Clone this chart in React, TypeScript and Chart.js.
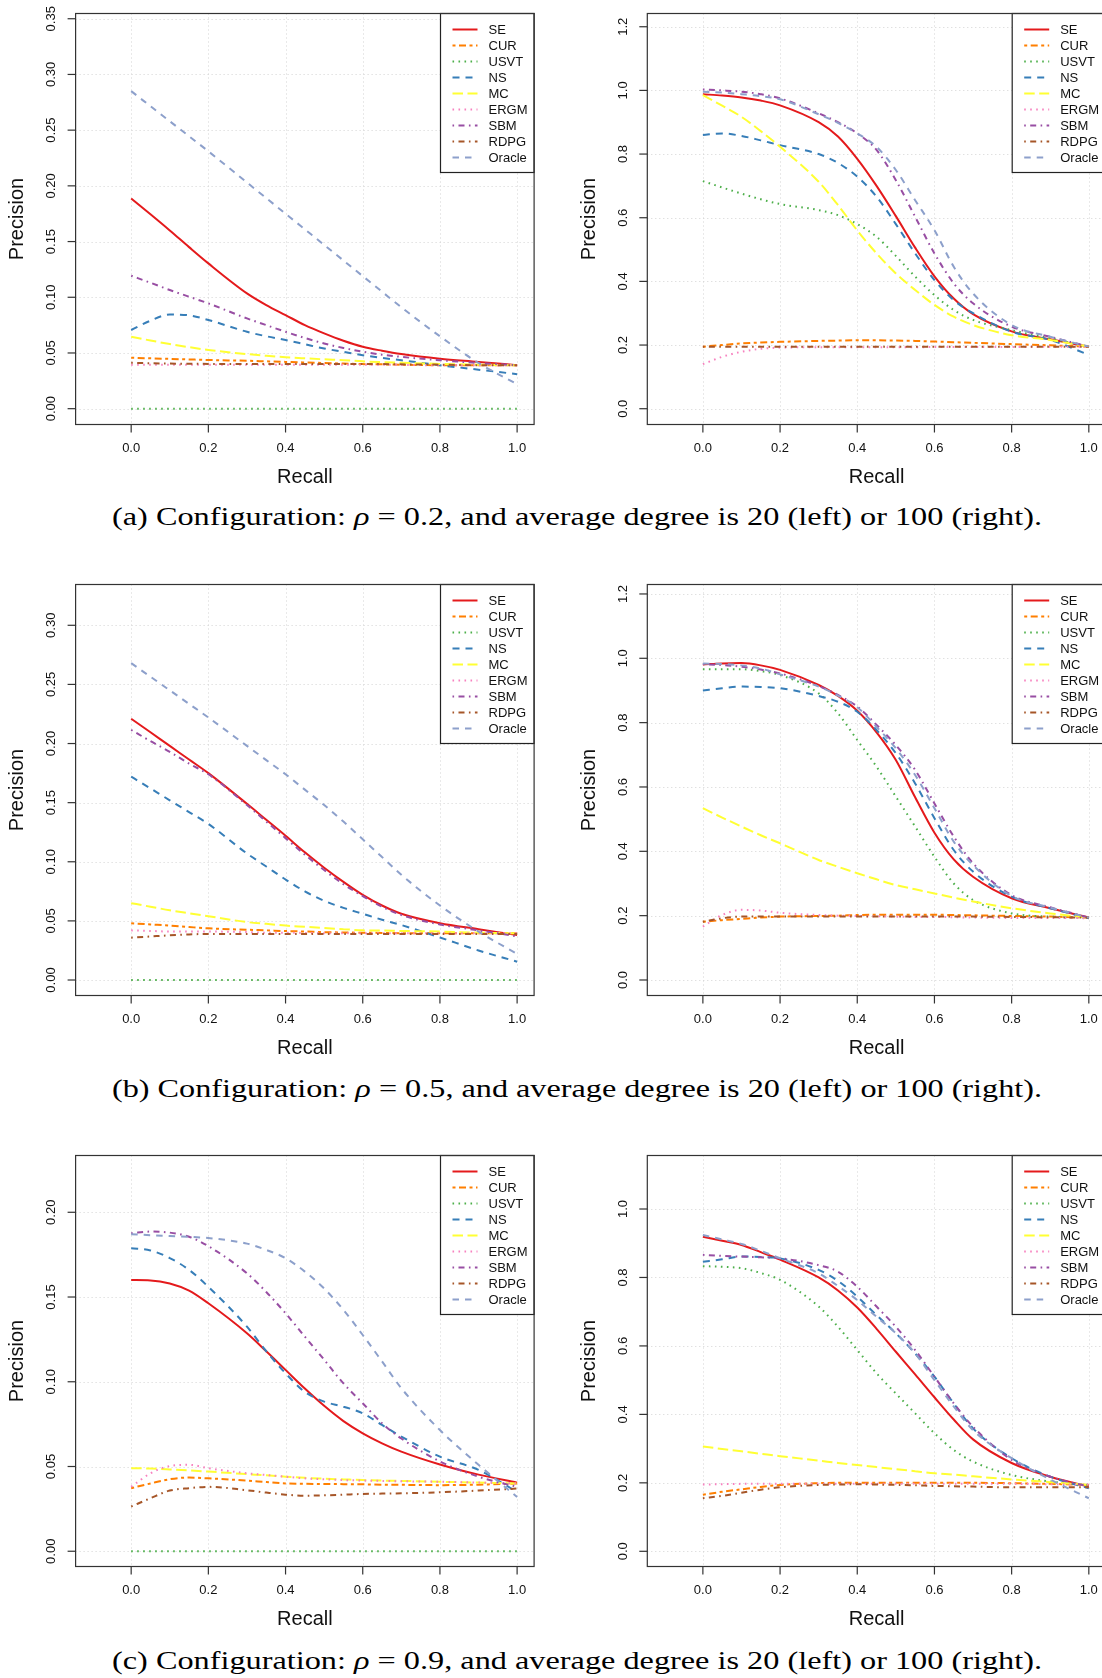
import React, { useEffect, useLayoutEffect, useRef } from "react";
import { Chart, registerables } from "chart.js";
Chart.register(...registerables);

// ---------------- data ----------------
const RECALL = [0, 0.05, 0.1, 0.15, 0.2, 0.3, 0.35, 0.4, 0.45, 0.5, 0.55, 0.6, 0.65, 0.7, 0.8, 0.9, 1.0];
const METHODS = ["SE", "CUR", "USVT", "NS", "MC", "ERGM", "SBM", "RDPG", "Oracle"];
const X_TICKS = [0, 0.2, 0.4, 0.6, 0.8, 1.0];
const X_TICK_LABELS = ["0.0", "0.2", "0.4", "0.6", "0.8", "1.0"];

// (a) rho = 0.2, degree 20
const A20_SE = [0.1887, 0.1745, 0.16, 0.145, 0.1304, 0.1035, 0.093, 0.084, 0.075, 0.0676, 0.061, 0.0556, 0.052, 0.049, 0.0448, 0.042, 0.039];
const A20_CUR = [0.0457, 0.0452, 0.0447, 0.0442, 0.0437, 0.043, 0.0425, 0.042, 0.0415, 0.041, 0.0405, 0.04, 0.0398, 0.0395, 0.039, 0.039, 0.039];
const A20_USVT = [0, 0, 0, 0, 0, 0, 0, 0, 0, 0, 0, 0, 0, 0, 0, 0, 0];
const A20_NS = [0.0706, 0.079, 0.0845, 0.0838, 0.0796, 0.069, 0.065, 0.0616, 0.0578, 0.054, 0.051, 0.048, 0.0455, 0.0435, 0.039, 0.035, 0.031];
const A20_MC = [0.0646, 0.0612, 0.058, 0.0552, 0.0527, 0.049, 0.0475, 0.0462, 0.0452, 0.0443, 0.0435, 0.0425, 0.0418, 0.0412, 0.0402, 0.0395, 0.039];
const A20_ERGM = [0.0395, 0.0395, 0.0395, 0.0395, 0.0395, 0.0395, 0.0395, 0.0395, 0.0395, 0.0395, 0.0395, 0.0395, 0.0395, 0.0393, 0.039, 0.039, 0.039];
const A20_SBM = [0.1193, 0.113, 0.1065, 0.1005, 0.0945, 0.081, 0.075, 0.069, 0.0635, 0.0585, 0.0545, 0.0511, 0.0485, 0.0465, 0.0435, 0.041, 0.039];
const A20_RDPG = [0.0412, 0.0408, 0.0405, 0.0403, 0.0402, 0.04, 0.04, 0.04, 0.04, 0.04, 0.04, 0.04, 0.04, 0.0398, 0.0395, 0.039, 0.039];
const A20_ORACLE = [0.285, 0.2715, 0.258, 0.2445, 0.231, 0.203, 0.189, 0.175, 0.161, 0.147, 0.133, 0.119, 0.105, 0.091, 0.065, 0.041, 0.022];

// (a) rho = 0.2, degree 100
const A100_SE = [0.988, 0.984, 0.978, 0.968, 0.953, 0.9, 0.855, 0.785, 0.7, 0.605, 0.506, 0.416, 0.346, 0.297, 0.243, 0.218, 0.195];
const A100_CUR = [0.195, 0.2, 0.205, 0.208, 0.21, 0.213, 0.214, 0.215, 0.215, 0.214, 0.213, 0.211, 0.209, 0.207, 0.203, 0.199, 0.195];
const A100_USVT = [0.715, 0.695, 0.676, 0.658, 0.643, 0.624, 0.608, 0.58, 0.54, 0.48, 0.415, 0.357, 0.31, 0.279, 0.247, 0.221, 0.195];
const A100_NS = [0.86, 0.865, 0.857, 0.843, 0.828, 0.8, 0.772, 0.729, 0.666, 0.58, 0.488, 0.404, 0.341, 0.3, 0.242, 0.216, 0.169];
const A100_MC = [0.985, 0.952, 0.917, 0.872, 0.823, 0.713, 0.64, 0.56, 0.488, 0.425, 0.373, 0.326, 0.289, 0.263, 0.231, 0.216, 0.195];
const A100_ERGM = [0.14, 0.163, 0.179, 0.188, 0.192, 0.193, 0.193, 0.193, 0.193, 0.193, 0.193, 0.194, 0.194, 0.194, 0.194, 0.195, 0.195];
const A100_SBM = [1.003, 1.0, 0.996, 0.988, 0.975, 0.928, 0.9, 0.865, 0.813, 0.718, 0.603, 0.488, 0.394, 0.331, 0.258, 0.226, 0.195];
const A100_RDPG = [0.195, 0.195, 0.195, 0.195, 0.195, 0.195, 0.195, 0.195, 0.195, 0.195, 0.195, 0.195, 0.195, 0.195, 0.195, 0.195, 0.195];
const A100_ORACLE = [0.996, 0.993, 0.988, 0.982, 0.972, 0.925, 0.898, 0.865, 0.823, 0.75, 0.655, 0.561, 0.446, 0.362, 0.263, 0.226, 0.195];

// (b) rho = 0.5, degree 20
const B20_SE = [0.221, 0.2095, 0.198, 0.1865, 0.175, 0.149, 0.1355, 0.122, 0.108, 0.095, 0.083, 0.072, 0.063, 0.056, 0.048, 0.043, 0.038];
const B20_CUR = [0.048, 0.047, 0.046, 0.0448, 0.0437, 0.0425, 0.042, 0.0414, 0.041, 0.0405, 0.0402, 0.04, 0.0398, 0.0396, 0.0395, 0.0395, 0.0395];
const B20_USVT = [0, 0, 0, 0, 0, 0, 0, 0, 0, 0, 0, 0, 0, 0, 0, 0, 0];
const B20_NS = [0.172, 0.162, 0.152, 0.142, 0.132, 0.107, 0.096, 0.085, 0.075, 0.067, 0.061, 0.056, 0.051, 0.0465, 0.036, 0.025, 0.0155];
const B20_MC = [0.065, 0.062, 0.059, 0.0565, 0.054, 0.049, 0.0475, 0.046, 0.045, 0.044, 0.043, 0.042, 0.0418, 0.0415, 0.041, 0.04, 0.0395];
const B20_ERGM = [0.042, 0.0415, 0.041, 0.041, 0.041, 0.0405, 0.04, 0.04, 0.0398, 0.0396, 0.0395, 0.0395, 0.0395, 0.0395, 0.0395, 0.0395, 0.0395];
const B20_SBM = [0.2115, 0.202, 0.193, 0.183, 0.174, 0.148, 0.134, 0.12, 0.106, 0.093, 0.081, 0.071, 0.062, 0.055, 0.047, 0.042, 0.037];
const B20_RDPG = [0.0358, 0.0368, 0.0378, 0.0385, 0.039, 0.039, 0.039, 0.039, 0.039, 0.039, 0.039, 0.039, 0.039, 0.039, 0.039, 0.039, 0.039];
const B20_ORACLE = [0.268, 0.2565, 0.245, 0.2335, 0.222, 0.198, 0.186, 0.174, 0.161, 0.148, 0.134, 0.119, 0.104, 0.089, 0.063, 0.041, 0.022];

// (b) rho = 0.5, degree 100
const B100_SE = [0.981, 0.984, 0.985, 0.978, 0.964, 0.917, 0.883, 0.837, 0.77, 0.684, 0.568, 0.458, 0.375, 0.321, 0.254, 0.223, 0.194];
const B100_CUR = [0.181, 0.186, 0.19, 0.194, 0.197, 0.199, 0.2, 0.202, 0.203, 0.203, 0.203, 0.203, 0.202, 0.201, 0.199, 0.197, 0.194];
const B100_USVT = [0.966, 0.966, 0.966, 0.96, 0.948, 0.891, 0.829, 0.746, 0.663, 0.57, 0.477, 0.383, 0.3, 0.249, 0.207, 0.197, 0.192];
const B100_NS = [0.9, 0.907, 0.912, 0.911, 0.907, 0.883, 0.865, 0.834, 0.777, 0.705, 0.611, 0.503, 0.404, 0.337, 0.259, 0.223, 0.192];
const B100_MC = [0.534, 0.505, 0.477, 0.45, 0.425, 0.373, 0.352, 0.332, 0.313, 0.295, 0.282, 0.269, 0.256, 0.244, 0.223, 0.207, 0.194];
const B100_ERGM = [0.166, 0.202, 0.218, 0.216, 0.209, 0.202, 0.2, 0.199, 0.198, 0.197, 0.196, 0.196, 0.195, 0.194, 0.193, 0.193, 0.192];
const B100_SBM = [0.982, 0.979, 0.974, 0.965, 0.953, 0.914, 0.886, 0.85, 0.793, 0.73, 0.653, 0.549, 0.446, 0.363, 0.264, 0.226, 0.194];
const B100_RDPG = [0.181, 0.192, 0.197, 0.197, 0.197, 0.197, 0.197, 0.197, 0.197, 0.197, 0.197, 0.197, 0.197, 0.197, 0.196, 0.195, 0.194];
const B100_ORACLE = [0.984, 0.982, 0.978, 0.968, 0.95, 0.912, 0.884, 0.848, 0.787, 0.72, 0.637, 0.534, 0.43, 0.357, 0.261, 0.225, 0.194];

// (c) rho = 0.9, degree 20
const C20_SE = [0.16, 0.1598, 0.158, 0.1538, 0.1463, 0.1286, 0.118, 0.107, 0.096, 0.0858, 0.0768, 0.0696, 0.0637, 0.0588, 0.0512, 0.0452, 0.0405];
const C20_CUR = [0.0372, 0.04, 0.0425, 0.0435, 0.043, 0.0417, 0.0408, 0.04, 0.0398, 0.0397, 0.0396, 0.0395, 0.0393, 0.0392, 0.039, 0.0393, 0.04];
const C20_USVT = [0, 0, 0, 0, 0, 0, 0, 0, 0, 0, 0, 0, 0, 0, 0, 0, 0];
const C20_NS = [0.1788, 0.1775, 0.173, 0.166, 0.156, 0.1325, 0.118, 0.105, 0.094, 0.0883, 0.0853, 0.0814, 0.0745, 0.0677, 0.0558, 0.048, 0.035];
const C20_MC = [0.049, 0.0488, 0.0483, 0.0477, 0.047, 0.0455, 0.0448, 0.044, 0.0433, 0.0428, 0.0424, 0.042, 0.0417, 0.0415, 0.041, 0.0405, 0.04];
const C20_ERGM = [0.038, 0.046, 0.0503, 0.051, 0.049, 0.046, 0.045, 0.044, 0.043, 0.0425, 0.042, 0.0417, 0.0415, 0.0413, 0.041, 0.0405, 0.04];
const C20_SBM = [0.1876, 0.1886, 0.188, 0.1856, 0.18, 0.164, 0.153, 0.1404, 0.1266, 0.113, 0.099, 0.0873, 0.0755, 0.0665, 0.053, 0.044, 0.038];
const C20_RDPG = [0.0264, 0.0313, 0.0358, 0.0372, 0.038, 0.036, 0.0346, 0.0334, 0.0328, 0.033, 0.0334, 0.0338, 0.034, 0.0342, 0.0348, 0.0358, 0.037];
const C20_ORACLE = [0.187, 0.1865, 0.186, 0.1855, 0.1848, 0.1815, 0.1778, 0.1729, 0.165, 0.155, 0.1424, 0.1276, 0.112, 0.0962, 0.0715, 0.051, 0.032];

// (c) rho = 0.9, degree 100
const C100_SE = [0.919, 0.907, 0.895, 0.874, 0.852, 0.8, 0.762, 0.712, 0.65, 0.583, 0.517, 0.45, 0.385, 0.327, 0.258, 0.218, 0.189];
const C100_CUR = [0.165, 0.174, 0.181, 0.188, 0.194, 0.199, 0.2, 0.2, 0.2, 0.2, 0.2, 0.2, 0.2, 0.2, 0.199, 0.197, 0.194];
const C100_USVT = [0.833, 0.831, 0.827, 0.813, 0.793, 0.715, 0.656, 0.588, 0.52, 0.461, 0.403, 0.345, 0.296, 0.262, 0.223, 0.204, 0.194];
const C100_NS = [0.846, 0.853, 0.861, 0.86, 0.856, 0.822, 0.79, 0.744, 0.69, 0.637, 0.578, 0.51, 0.432, 0.359, 0.272, 0.218, 0.184];
const C100_MC = [0.306, 0.299, 0.292, 0.285, 0.278, 0.265, 0.258, 0.252, 0.246, 0.24, 0.234, 0.228, 0.224, 0.219, 0.21, 0.202, 0.194];
const C100_ERGM = [0.195, 0.196, 0.197, 0.197, 0.197, 0.197, 0.197, 0.197, 0.197, 0.197, 0.197, 0.197, 0.197, 0.197, 0.197, 0.196, 0.195];
const C100_SBM = [0.866, 0.863, 0.861, 0.859, 0.856, 0.836, 0.817, 0.773, 0.715, 0.656, 0.588, 0.51, 0.432, 0.364, 0.267, 0.218, 0.189];
const C100_RDPG = [0.155, 0.162, 0.171, 0.18, 0.187, 0.194, 0.195, 0.196, 0.195, 0.194, 0.193, 0.191, 0.19, 0.189, 0.187, 0.187, 0.187];
const C100_ORACLE = [0.924, 0.911, 0.898, 0.878, 0.856, 0.812, 0.775, 0.734, 0.685, 0.637, 0.578, 0.5, 0.423, 0.354, 0.272, 0.21, 0.155];

// y tick values / labels
const Y_TICKS_A20 = [0, 0.05, 0.1, 0.15, 0.2, 0.25, 0.3, 0.35];
const Y_LABELS_A20 = ["0.00", "0.05", "0.10", "0.15", "0.20", "0.25", "0.30", "0.35"];
const Y_TICKS_B20 = [0, 0.05, 0.1, 0.15, 0.2, 0.25, 0.3];
const Y_LABELS_B20 = ["0.00", "0.05", "0.10", "0.15", "0.20", "0.25", "0.30"];
const Y_TICKS_C20 = [0, 0.05, 0.1, 0.15, 0.2];
const Y_LABELS_C20 = ["0.00", "0.05", "0.10", "0.15", "0.20"];
const Y_TICKS_12 = [0, 0.2, 0.4, 0.6, 0.8, 1.0, 1.2];
const Y_LABELS_12 = ["0.0", "0.2", "0.4", "0.6", "0.8", "1.0", "1.2"];
const Y_TICKS_10 = [0, 0.2, 0.4, 0.6, 0.8, 1.0];
const Y_LABELS_10 = ["0.0", "0.2", "0.4", "0.6", "0.8", "1.0"];

const CAPTIONS = [
  ["(a) Configuration: ", "ρ", " = 0.2, and average degree is 20 (left) or 100 (right)."],
  ["(b) Configuration: ", "ρ", " = 0.5, and average degree is 20 (left) or 100 (right)."],
  ["(c) Configuration: ", "ρ", " = 0.9, and average degree is 20 (left) or 100 (right)."],
];

// ---------------- styles ----------------
const COLORS = ["#E41A1C", "#FF7F00", "#4DAF4A", "#377EB8", "#FFFF33", "#F781BF", "#984EA3", "#A65628", "#8DA0CB"];
const DASHES: number[][] = [[], [3, 3.5, 7, 3.5], [1.6, 4.4], [7, 6], [10.5, 4.5], [1.6, 4.4], [1.6, 4.4, 6, 4.4], [1.6, 4.4, 6, 4.4], [6.5, 6]];
const SANS = '"Liberation Sans", Arial, Helvetica, sans-serif';

type Spec = {
  left: number;
  top: number;
  width: number;
  height: number;
  padLeft: number;
  padRight: number;
  ymin: number;
  ymax: number;
  yTicks: number[];
  yLabels: string[];
  series: number[][];
};

const PAD_TOP = 13.5;
const PAD_BOTTOM = 75.5;
const CANVAS_H = 500;
const XMIN = -0.144;
const XMAX = 1.044;

const LEFT_CANVAS = { left: 0, width: 551, padLeft: 75.6, padRight: 16.9 };
const RIGHT_CANVAS = { left: 551, width: 580, padLeft: 96.3, padRight: 25.2 };
const ROW_TOPS = [0, 571, 1142];

const SPECS: Spec[] = [
  { ...LEFT_CANVAS, top: ROW_TOPS[0], height: CANVAS_H, ymin: -0.0142, ymax: 0.3547, yTicks: Y_TICKS_A20, yLabels: Y_LABELS_A20,
    series: [A20_SE, A20_CUR, A20_USVT, A20_NS, A20_MC, A20_ERGM, A20_SBM, A20_RDPG, A20_ORACLE] },
  { ...RIGHT_CANVAS, top: ROW_TOPS[0], height: CANVAS_H, ymin: -0.0496, ymax: 1.2416, yTicks: Y_TICKS_12, yLabels: Y_LABELS_12,
    series: [A100_SE, A100_CUR, A100_USVT, A100_NS, A100_MC, A100_ERGM, A100_SBM, A100_RDPG, A100_ORACLE] },
  { ...LEFT_CANVAS, top: ROW_TOPS[1], height: CANVAS_H, ymin: -0.0131, ymax: 0.3345, yTicks: Y_TICKS_B20, yLabels: Y_LABELS_B20,
    series: [B20_SE, B20_CUR, B20_USVT, B20_NS, B20_MC, B20_ERGM, B20_SBM, B20_RDPG, B20_ORACLE] },
  { ...RIGHT_CANVAS, top: ROW_TOPS[1], height: CANVAS_H, ymin: -0.0482, ymax: 1.2294, yTicks: Y_TICKS_12, yLabels: Y_LABELS_12,
    series: [B100_SE, B100_CUR, B100_USVT, B100_NS, B100_MC, B100_ERGM, B100_SBM, B100_RDPG, B100_ORACLE] },
  { ...LEFT_CANVAS, top: ROW_TOPS[2], height: CANVAS_H, ymin: -0.009, ymax: 0.2335, yTicks: Y_TICKS_C20, yLabels: Y_LABELS_C20,
    series: [C20_SE, C20_CUR, C20_USVT, C20_NS, C20_MC, C20_ERGM, C20_SBM, C20_RDPG, C20_ORACLE] },
  { ...RIGHT_CANVAS, top: ROW_TOPS[2], height: CANVAS_H, ymin: -0.0444, ymax: 1.1563, yTicks: Y_TICKS_10, yLabels: Y_LABELS_10,
    series: [C100_SE, C100_CUR, C100_USVT, C100_NS, C100_MC, C100_ERGM, C100_SBM, C100_RDPG, C100_ORACLE] },
];

function Panel({ spec }: { spec: Spec }) {
  const ref = useRef<HTMLCanvasElement>(null);
  useEffect(() => {
    const canvas = ref.current;
    if (!canvas) return;
    const plugin = {
      id: "rstyle",
      beforeDatasetsDraw(chart: any) {
        const { ctx, chartArea: a } = chart;
        const xs = chart.scales.x;
        const ys = chart.scales.y;
        ctx.save();
        ctx.strokeStyle = "#d3d3d3";
        ctx.lineWidth = 1;
        ctx.setLineDash([1, 3]);
        X_TICKS.forEach((v) => {
          const p = Math.round(xs.getPixelForValue(v)) + 0.5;
          ctx.beginPath();
          ctx.moveTo(p, a.top);
          ctx.lineTo(p, a.bottom);
          ctx.stroke();
        });
        spec.yTicks.forEach((v) => {
          const p = Math.round(ys.getPixelForValue(v)) + 0.5;
          ctx.beginPath();
          ctx.moveTo(a.left, p);
          ctx.lineTo(a.right, p);
          ctx.stroke();
        });
        ctx.restore();
      },
      afterDatasetsDraw(chart: any) {
        const { ctx, chartArea: a } = chart;
        const xs = chart.scales.x;
        const ys = chart.scales.y;
        ctx.save();
        // legend
        const lw = 93.6;
        const lh = 159;
        const lx = a.right - lw;
        const ly = a.top;
        ctx.fillStyle = "#ffffff";
        ctx.fillRect(lx, ly, lw, lh);
        ctx.strokeStyle = "#222";
        ctx.lineWidth = 1.2;
        ctx.setLineDash([]);
        ctx.strokeRect(lx, ly, lw, lh);
        METHODS.forEach((m, i) => {
          const yy = ly + 16 + i * 16;
          ctx.strokeStyle = COLORS[i];
          ctx.lineWidth = 2;
          ctx.setLineDash(DASHES[i]);
          ctx.beginPath();
          ctx.moveTo(lx + 12, yy);
          ctx.lineTo(lx + 37, yy);
          ctx.stroke();
          ctx.setLineDash([]);
          ctx.fillStyle = "#111";
          ctx.font = `13px ${SANS}`;
          ctx.textAlign = "left";
          ctx.textBaseline = "middle";
          ctx.fillText(m, lx + 48, yy + 0.5);
        });
        // box
        ctx.strokeStyle = "#333";
        ctx.lineWidth = 1.2;
        ctx.setLineDash([]);
        ctx.strokeRect(a.left, a.top, a.right - a.left, a.bottom - a.top);
        // x ticks
        ctx.fillStyle = "#111";
        ctx.font = `13px ${SANS}`;
        ctx.textAlign = "center";
        ctx.textBaseline = "middle";
        X_TICKS.forEach((v, i) => {
          const p = xs.getPixelForValue(v);
          ctx.beginPath();
          ctx.moveTo(p, a.bottom);
          ctx.lineTo(p, a.bottom + 8);
          ctx.stroke();
          ctx.fillText(X_TICK_LABELS[i], p, a.bottom + 24);
        });
        // y ticks
        spec.yTicks.forEach((v, i) => {
          const p = ys.getPixelForValue(v);
          ctx.beginPath();
          ctx.moveTo(a.left, p);
          ctx.lineTo(a.left - 8, p);
          ctx.stroke();
          ctx.save();
          ctx.translate(a.left - 24, p);
          ctx.rotate(-Math.PI / 2);
          ctx.fillText(spec.yLabels[i], 0, 0);
          ctx.restore();
        });
        // axis titles
        ctx.font = `20px ${SANS}`;
        ctx.fillText("Recall", (a.left + a.right) / 2, a.bottom + 53);
        ctx.save();
        ctx.translate(a.left - 58, (a.top + a.bottom) / 2);
        ctx.rotate(-Math.PI / 2);
        ctx.fillText("Precision", 0, 0);
        ctx.restore();
        ctx.restore();
      },
    };

    const datasets = METHODS.map((m, k) => ({
      label: m,
      data: RECALL.map((r, i) => ({ x: r, y: spec.series[k][i] })),
      borderColor: COLORS[k],
      backgroundColor: COLORS[k],
      borderDash: DASHES[k],
      borderWidth: 2,
      pointRadius: 0,
      pointHoverRadius: 0,
      fill: false,
      cubicInterpolationMode: "monotone" as const,
      order: -k,
    }));

    const chart = new Chart(canvas, {
      type: "line",
      data: { datasets },
      options: {
        animation: false,
        responsive: false,
        devicePixelRatio: 1,
        events: [],
        layout: {
          padding: { left: spec.padLeft, right: spec.padRight, top: PAD_TOP, bottom: PAD_BOTTOM },
        },
        scales: {
          x: { type: "linear", min: XMIN, max: XMAX, display: false },
          y: { type: "linear", min: spec.ymin, max: spec.ymax, display: false },
        },
        plugins: {
          legend: { display: false },
          tooltip: { enabled: false },
        },
      },
      plugins: [plugin],
    });
    return () => chart.destroy();
  }, [spec]);
  return (
    <canvas
      ref={ref}
      width={spec.width}
      height={spec.height}
      style={{ position: "absolute", left: spec.left, top: spec.top, width: spec.width, height: spec.height }}
    />
  );
}

const CAPTION_CENTERS = [517, 1089, 1661];
const CAPTION_LEFT = 112;
const CAPTION_WIDTH = 930;

function Caption({ parts, centerY }: { parts: string[]; centerY: number }) {
  const ref = useRef<HTMLDivElement>(null);
  useLayoutEffect(() => {
    const el = ref.current;
    if (!el) return;
    el.style.transform = "none";
    const w = el.getBoundingClientRect().width;
    if (w > 0) el.style.transform = `scaleX(${CAPTION_WIDTH / w})`;
  }, []);
  return (
    <div
      ref={ref}
      style={{
        position: "absolute",
        left: CAPTION_LEFT,
        top: centerY - 16,
        height: 32,
        lineHeight: "32px",
        whiteSpace: "nowrap",
        transformOrigin: "0 50%",
        fontFamily: '"Liberation Serif", "Times New Roman", serif',
        fontSize: 26,
        color: "#000",
        display: "inline-block",
      }}
    >
      {parts[0]}
      <i>{parts[1]}</i>
      {parts[2]}
    </div>
  );
}

export default function App() {
  return (
    <div
      style={{
        position: "absolute",
        left: 0,
        top: 0,
        width: 1102,
        height: 1678,
        overflow: "hidden",
        background: "#ffffff",
      }}
    >
      {SPECS.map((s, i) => (
        <Panel key={i} spec={s} />
      ))}
      {CAPTIONS.map((c, i) => (
        <Caption key={i} parts={c} centerY={CAPTION_CENTERS[i]} />
      ))}
    </div>
  );
}
